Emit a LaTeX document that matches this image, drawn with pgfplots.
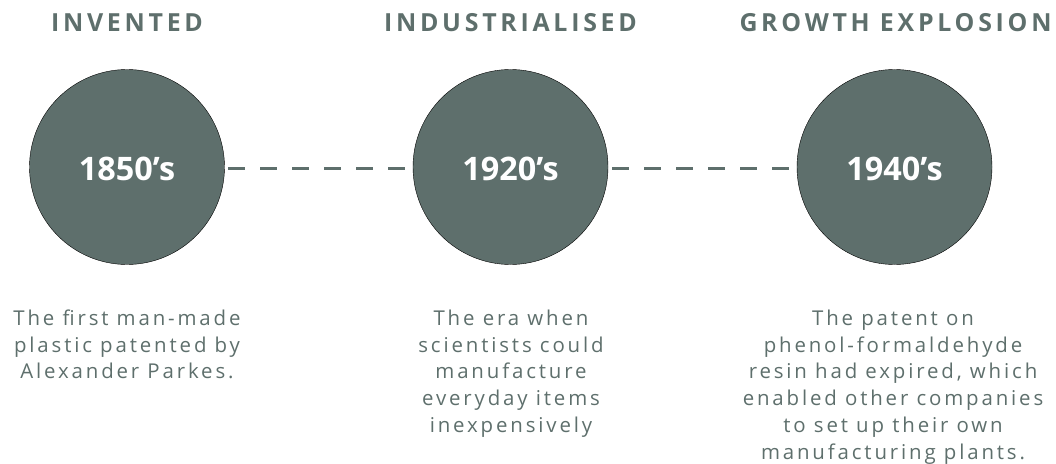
\documentclass[border=0pt]{standalone}
\usepackage{pgfplots}
\pgfplotsset{compat=1.18}
\usepackage{fontspec}
\setmainfont{Open Sans}
\newfontfamily\titlefont[LetterSpace=15]{Open Sans}
\newfontfamily\descfont[LetterSpace=14]{Open Sans}
\definecolor{slate}{RGB}{94,111,108}
\begin{document}
\begin{tikzpicture}
\begin{axis}[at={(0,0)},anchor=south west, scale only axis, width=1056bp, height=464bp,
  xmin=0,xmax=1056,ymin=0,ymax=464, y dir=reverse, hide axis, clip=false]
\addplot[slate, line width=3bp, dash pattern=on 17bp off 15bp] coordinates {(228,168) (410,168)};
\addplot[slate, line width=3bp, dash pattern=on 17bp off 15bp] coordinates {(612,168) (794,168)};
\addplot[only marks, mark=*, mark size=97.5bp, mark options={fill=slate, draw=none}] coordinates {(127,167) (510.5,167) (894.5,167)};
\coordinate (y1) at (axis cs:127,181);
\coordinate (y2) at (axis cs:510.5,181);
\coordinate (y3) at (axis cs:894.5,181);
% titles
\tikzset{ttl/.style={anchor=base, text=slate, font=\titlefont\bfseries\fontsize{25}{30}\selectfont},
  ds/.style={anchor=base, text=slate, font=\descfont\fontsize{20.5}{27}\selectfont}}
\node[ttl] at (axis cs:127,31.5) {INVENTED};
\node[ttl] at (axis cs:510.5,31.5) {INDUSTRIALISED};
\node[ttl] at (axis cs:895.5,31.5) {GROWTH EXPLOSION};
% descriptions
\node[ds] at (axis cs:127,325.5) {The first man-made};
\node[ds] at (axis cs:127,352.2) {plastic patented by};
\node[ds] at (axis cs:127,378.9) {Alexander Parkes.};
\node[ds] at (axis cs:511,325.5) {The era when};
\node[ds] at (axis cs:511,352.2) {scientists could};
\node[ds] at (axis cs:511,378.9) {manufacture};
\node[ds] at (axis cs:511,405.6) {everyday items};
\node[ds] at (axis cs:511,432.3) {inexpensively};
\node[ds] at (axis cs:893,325.5) {The patent on};
\node[ds] at (axis cs:893,352.2) {phenol-formaldehyde};
\node[ds] at (axis cs:893,378.9) {resin had expired, which};
\node[ds] at (axis cs:893,405.6) {enabled other companies};
\node[ds] at (axis cs:893,432.3) {to set up their own};
\node[ds] at (axis cs:893,459.0) {manufacturing plants.};
\end{axis}
\tikzset{yr/.style={anchor=base, text=white, font=\bfseries\fontsize{32.5}{38}\selectfont}}
\node[yr] at (y1) {1850’s};
\node[yr] at (y2) {1920’s};
\node[yr] at (y3) {1940’s};
\pgfresetboundingbox
\path[use as bounding box] (0,0) rectangle (1056bp,464bp);
\end{tikzpicture}
\end{document}
